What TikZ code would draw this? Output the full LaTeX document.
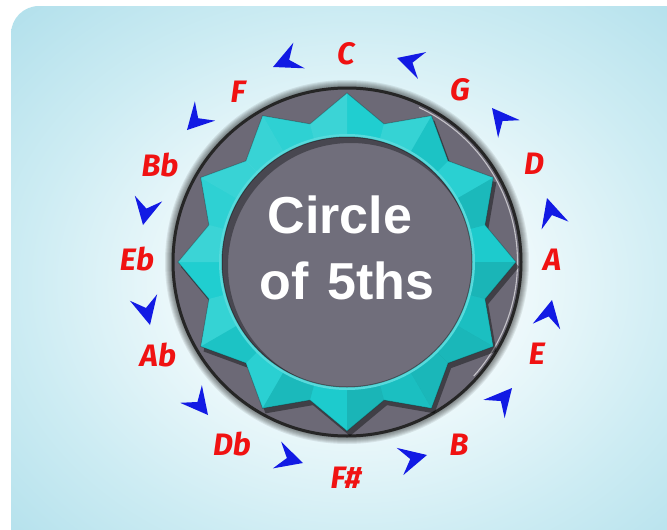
\documentclass[tikz,border=0pt]{standalone}
\usepackage{fontspec}
\setmainfont{Liberation Sans}
\newfontfamily\notefont{Fira Sans}
\usetikzlibrary{calc}

\definecolor{bgedge}{RGB}{176,223,235}
\definecolor{bgring}{RGB}{205,236,243}
\definecolor{bgmid}{RGB}{241,250,252}
\definecolor{ringgray}{RGB}{108,105,118}
\definecolor{diskgray}{RGB}{112,110,123}
\definecolor{starteal}{RGB}{30,206,208}
\definecolor{notered}{RGB}{240,18,18}
\definecolor{arrowblue}{RGB}{18,26,228}

\pgfdeclareradialshading{panelglow}{\pgfpoint{0bp}{0bp}}{%
  color(0bp)=(bgmid); color(11bp)=(bgmid); color(24bp)=(bgring);
  color(36bp)=(bgedge); color(50bp)=(bgedge)}

\tikzset{
  note/.style={text=notered, inner sep=0pt,
    font=\notefont\bfseries\itshape\fontsize{31}{31}\selectfont},
  titletext/.style={text=white, inner sep=0pt, anchor=base,
    font=\bfseries\fontsize{52}{52}\selectfont},
  glow/.style={black, opacity=0.08},
}

% arrowhead with its tip at #1 and the middle of its back at #2
\newcommand\fifthsarrow[2]{%
  \fill[arrowblue] (#1) -- ($(#2)!14pt!90:(#1)$) -- ($(#2)!0.38!(#1)$)
    -- ($(#2)!14pt!-90:(#1)$) -- cycle;}

\begin{document}
\begin{tikzpicture}[x=1pt,y=-1pt]
\useasboundingbox (0,0) rectangle (667,530);
\fill[white] (0,0) rectangle (667,530);

% panel
\path[shading=panelglow, rounded corners=28] (11,6) rectangle (700,560);

\coordinate (c) at (347,262);

% soft shadow round the dial
\foreach \w in {2,4,...,14}{
  \draw[glow, line width=\w pt] (c) circle[radius=175];
}

% outer ring
\fill[ringgray] (c) circle[radius=175];
\draw[black!85, line width=3pt] (c) circle[radius=174];
\draw[white, opacity=0.6, line width=1.1pt]
  (c) ++(-65:170.5) arc[start angle=-65, end angle=42, radius=170.5];

% star shadow
\begin{scope}[shift={($(c)+(3,5)$)}]
  \fill[black, opacity=0.4] (90:169)
    \foreach \k in {0,...,11}{ -- (90+\k*30:169) -- (105+\k*30:143)} -- cycle;
\end{scope}

% twelve-pointed star with a gentle bevel
\begin{scope}[shift={(c)}]
  \fill[starteal] (90:169)
    \foreach \k in {0,...,11}{ -- (90+\k*30:169) -- (105+\k*30:143)} -- cycle;
  \foreach \k in {0,...,11}{
    \pgfmathsetmacro\a{90+\k*30}
    \pgfmathsetmacro\ea{cos(\a+40-225)}
    \pgfmathsetmacro\eb{cos(\a-40-225)}
    \pgfmathsetmacro\wa{max(0,0.13*\ea)}
    \pgfmathsetmacro\da{max(0,-0.12*\ea)}
    \pgfmathsetmacro\wb{max(0,0.13*\eb)}
    \pgfmathsetmacro\db{max(0,-0.12*\eb)}
    \fill[white, opacity=\wa] (0,0) -- (\a:169) -- (\a+15:143) -- cycle;
    \fill[black, opacity=\da] (0,0) -- (\a:169) -- (\a+15:143) -- cycle;
    \fill[white, opacity=\wb] (0,0) -- (\a-15:143) -- (\a:169) -- cycle;
    \fill[black, opacity=\db] (0,0) -- (\a-15:143) -- (\a:169) -- cycle;
  }
  \draw[black, opacity=0.25, line width=0.8pt] (90:169)
    \foreach \k in {0,...,11}{ -- (90+\k*30:169) -- (105+\k*30:143)} -- cycle;
\end{scope}

% sunken centre disk
\fill[starteal!75!white] (c) circle[radius=128];
\fill[diskgray] (c) circle[radius=125];
\begin{scope}
  \clip (c) circle[radius=125];
  \draw[black, opacity=0.35, line width=8pt] ($(c)+(4,4)$) circle[radius=127];
\end{scope}
\draw[black, opacity=0.4, line width=1pt] (c) circle[radius=125];

% title
\node[titletext] (t1) at (340,233) {Circle};
\node[titletext] (t2) at (347,299) {of\hspace{4pt} 5ths};

% note names
\node[note] (nC)  at (346,54)  {C};
\node[note] (nG)  at (460,90)  {G};
\node[note] (nD)  at (534,164) {D};
\node[note] (nA)  at (552,260) {A};
\node[note] (nE)  at (537,354) {E};
\node[note] (nB)  at (459,445) {B};
\node[note] (nFs) at (346,478) {F\#};
\node[note] (nDb) at (232,444) {Db};
\node[note] (nAb) at (158,355) {Ab};
\node[note] (nEb) at (137,259) {Eb};
\node[note] (nBb) at (160,165) {Bb};
\node[note] (nF)  at (238,92)  {F};

% arrowheads: tip and back middle
\coordinate (a1t)  at (273,67);   \coordinate (a1m)  at (299,55.5);
\coordinate (a2t)  at (397,58);   \coordinate (a2m)  at (422,65.5);
\coordinate (a3t)  at (492,108);  \coordinate (a3m)  at (509,129);
\coordinate (a4t)  at (547,198);  \coordinate (a4m)  at (555,225.5);
\coordinate (a5t)  at (552,300);  \coordinate (a5m)  at (546.5,326.5);
\coordinate (a6t)  at (512,388);  \coordinate (a6m)  at (494,409);
\coordinate (a7t)  at (427,455);  \coordinate (a7m)  at (400,461.5);
\coordinate (a8t)  at (303,463);  \coordinate (a8m)  at (277,455);
\coordinate (a9t)  at (208,415);  \coordinate (a9m)  at (191,394);
\coordinate (a10t) at (150,325);  \coordinate (a10m) at (143.5,297.5);
\coordinate (a11t) at (143,225);  \coordinate (a11m) at (148.5,198.5);
\coordinate (a12t) at (187,130);  \coordinate (a12m) at (205,111);
\foreach \i in {1,...,12}{
  \fifthsarrow{a\i t}{a\i m}
}
\end{tikzpicture}
\end{document}
